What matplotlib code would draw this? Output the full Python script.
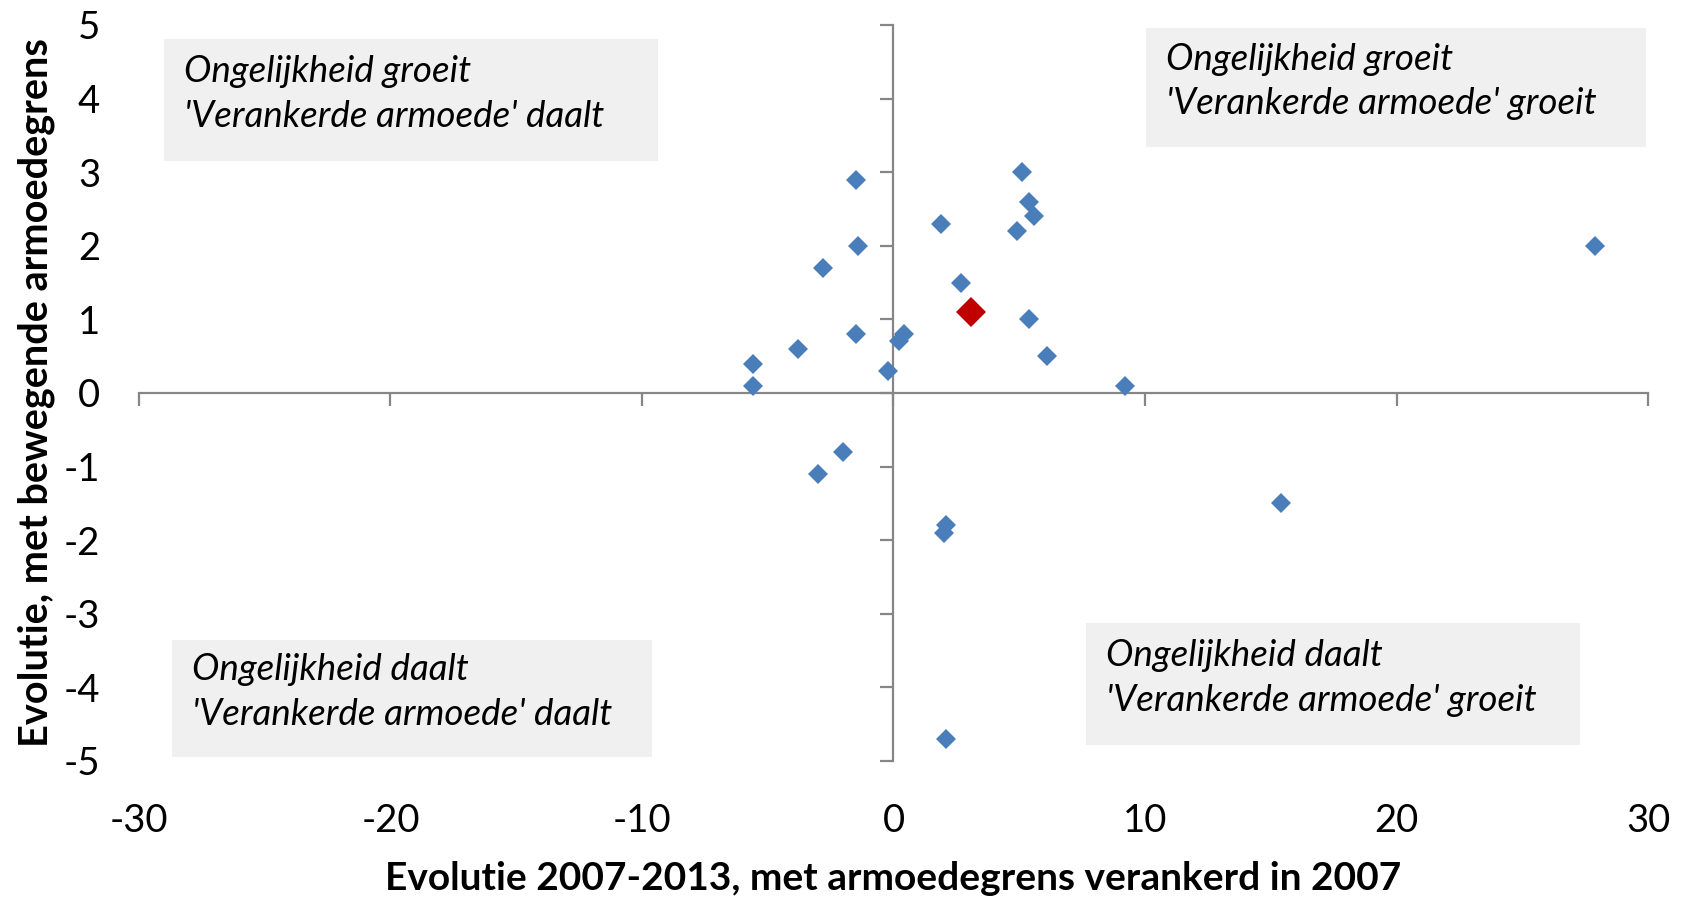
import matplotlib
matplotlib.use("Agg")
import matplotlib.pyplot as plt
from matplotlib.patches import Rectangle

# ---- data ----
x_vals = [-1.5, -1.4, -2.8, -1.5, -3.8, -5.6, -5.6, -0.2, 0.2, 0.4, 1.9, 2.7,
          5.1, 5.4, 5.6, 4.9, 5.4, 6.1, 9.2, 27.9, 15.4, -2.0, -3.0, 2.1, 2.0, 2.1]
y_vals = [2.9, 2.0, 1.7, 0.8, 0.6, 0.4, 0.1, 0.3, 0.7, 0.8, 2.3, 1.5,
          3.0, 2.6, 2.4, 2.2, 1.0, 0.5, 0.1, 2.0, -1.5, -0.8, -1.1, -1.8, -1.9, -4.7]
highlight_x = [3.1]
highlight_y = [1.1]

x_ticks = [-30, -20, -10, 0, 10, 20, 30]
y_ticks = [-5, -4, -3, -2, -1, 0, 1, 2, 3, 4, 5]

xlabel = "Evolutie 2007-2013, met armoedegrens verankerd in 2007"
ylabel = "Evolutie, met bewegende armoedegrens"

quadrant_texts = [
    "Ongelijkheid groeit\n'Verankerde armoede' daalt",
    "Ongelijkheid groeit\n'Verankerde armoede' groeit",
    "Ongelijkheid daalt\n'Verankerde armoede' daalt",
    "Ongelijkheid daalt\n'Verankerde armoede' groeit",
]
# box extents in data units (x0, x1, y0, y1)
quadrant_boxes = [
    (-29.0, -9.35, 3.15, 4.81),
    (10.05, 29.9, 3.34, 4.96),
    (-28.7, -9.6, -4.94, -3.35),
    (7.65, 27.3, -4.78, -3.13),
]

plt.rcParams['font.family'] = ['Lato', 'DejaVu Sans']

fig = plt.figure(figsize=(16.86, 8.98), dpi=100)
ax = fig.add_axes([0.0824, 0.1526, 0.9775 - 0.0824, 0.9722 - 0.1526])

ax.set_xlim(-30, 30)
ax.set_ylim(-5, 5)

axis_col = "#868686"
for s in ["top", "right"]:
    ax.spines[s].set_visible(False)
ax.spines["left"].set_position(("data", 0))
ax.spines["bottom"].set_position(("data", 0))
for s in ["left", "bottom"]:
    ax.spines[s].set_color(axis_col)
    ax.spines[s].set_linewidth(1.6)

ax.set_xticks(x_ticks)
ax.set_yticks(y_ticks)
ax.tick_params(axis="both", direction="out", length=9.5, width=1.6,
               color=axis_col, labelbottom=False, labelleft=False)

# quadrant boxes
for (x0, x1, y0, y1), txt in zip(quadrant_boxes, quadrant_texts):
    ax.add_patch(Rectangle((x0, y0), x1 - x0, y1 - y0, facecolor="#F0F0F0",
                           edgecolor="none", zorder=1))
    ax.text(x0 + 0.8, (y0 + y1) / 2 + 0.08, txt, fontsize=26.5, style="italic",
            va="center", ha="left", linespacing=1.42, zorder=2)

ax.plot(x_vals, y_vals, linestyle="none", marker="D", markersize=10.5,
        color="#4A7EBB", markeredgewidth=0, zorder=3)
ax.plot(highlight_x, highlight_y, linestyle="none", marker="D", markersize=15,
        color="#C00000", markeredgewidth=0, zorder=4)

# tick labels at the outer edges
secx = ax.secondary_xaxis(0)
secx.set_xticks(x_ticks)
secx.set_xticklabels([str(t) for t in x_ticks])
secx.tick_params(length=0, pad=30, labelsize=27.5)
secx.spines["bottom"].set_visible(False)

secy = ax.secondary_yaxis(0)
secy.set_yticks(y_ticks)
secy.set_yticklabels([str(t) for t in y_ticks])
secy.tick_params(length=0, pad=28, labelsize=27.5)
secy.spines["left"].set_visible(False)

fig.text(0.5 * (0.0824 + 0.9775), 1 - 879 / 898, xlabel, fontsize=28,
         fontweight="bold", ha="center", va="center")
fig.text(36 / 1686, 0.5 * (0.1526 + 0.9722), ylabel, fontsize=28.5,
         fontweight="bold", ha="center", va="center", rotation=90)

fig.savefig("out.png", dpi=100)
